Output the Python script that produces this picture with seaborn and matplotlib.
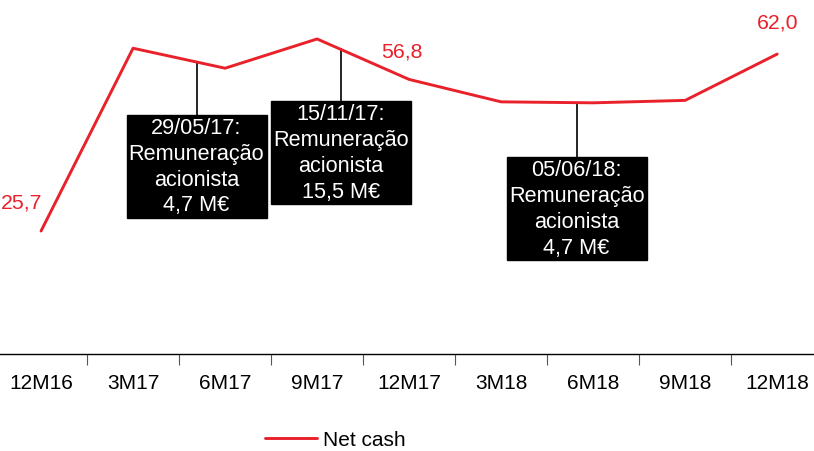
import numpy as np
import pandas as pd
import matplotlib
matplotlib.use("Agg")
import matplotlib.pyplot as plt
import seaborn as sns

# dados (M€)
periodos = ["12M16", "3M17", "6M17", "9M17", "12M17", "3M18", "6M18", "9M18", "12M18"]
net_cash = [25.7, 63.2, 59.1, 65.1, 56.8, 52.2, 52.0, 52.5, 62.0]
rotulos_valor = {0: "25,7", 4: "56,8", 8: "62,0"}

# eventos: posição no eixo, texto da caixa
eventos_x = [1.69, 3.26, 5.82]
eventos_txt = ["29/05/17:\nRemuneração\nacionista\n4,7 M€",
               "15/11/17:\nRemuneração\nacionista\n15,5 M€",
               "05/06/18:\nRemuneração\nacionista\n4,7 M€"]
eventos_y_caixa = [39.0, 41.8, 30.3]

vermelho = "#e8212b"

sns.set_theme(style="white")
plt.rcParams["font.family"] = ["Liberation Sans", "DejaVu Sans"]
plt.rcParams["text.color"] = "black"
plt.rcParams["xtick.color"] = "black"

tabela = pd.DataFrame({"periodo": periodos, "Net cash": net_cash})

fig = plt.figure(figsize=(8.14, 4.52), dpi=100)
ax = fig.add_axes([0, 97 / 452, 1, 355 / 452])

sns.lineplot(data=tabela, x="periodo", y="Net cash", color=vermelho, linewidth=2.1,
             label="Net cash", ax=ax, sort=False)

# rótulos de valor
desloc = {0: (-0.21, 6.0), 4: (-0.08, 5.8), 8: (0.0, 6.5)}
for i, txt in rotulos_valor.items():
    dx, dy = desloc[i]
    ax.text(i + dx, net_cash[i] + dy, txt, color=vermelho, fontsize=15.3,
            ha="center", va="center")

# caixas de eventos com linha de ligação
for x, txt, yc in zip(eventos_x, eventos_txt, eventos_y_caixa):
    y_linha = np.interp(x, np.arange(len(net_cash)), net_cash)
    ax.plot([x, x], [y_linha, yc], color="black", linewidth=1.2, zorder=1)
    ax.text(x, yc, txt, color="white", fontsize=15.6, ha="center", va="center",
            linespacing=1.3, zorder=3,
            bbox=dict(boxstyle="square,pad=0.1", facecolor="black", edgecolor="black"))

ax.set_xlim(-0.446, 8.40)
ax.set_ylim(0.47, 73.3)
ax.set_xlabel("")
ax.set_ylabel("")
ax.set_yticks([])

# marcas entre categorias
ax.set_xticks(np.arange(len(periodos)))
ax.set_xticklabels(periodos, fontsize=15, color="black")
ax.tick_params(axis="x", which="major", length=0, pad=14)
ax.set_xticks(np.arange(len(periodos) - 1) + 0.5, minor=True)
ax.tick_params(axis="x", which="minor", bottom=True, length=8, width=0.8,
               color="#555555", direction="out")

for lado in ["top", "left", "right"]:
    ax.spines[lado].set_visible(False)
ax.spines["bottom"].set_color("black")
ax.spines["bottom"].set_linewidth(1.0)

leg = ax.legend(loc="center", bbox_to_anchor=(0.412, 11 / 452), bbox_transform=fig.transFigure,
                frameon=False, fontsize=15, handlelength=2.5, handletextpad=0.3,
                borderpad=0, borderaxespad=0)
for t in leg.get_texts():
    t.set_color("black")

fig.savefig("out.png", dpi=100)
